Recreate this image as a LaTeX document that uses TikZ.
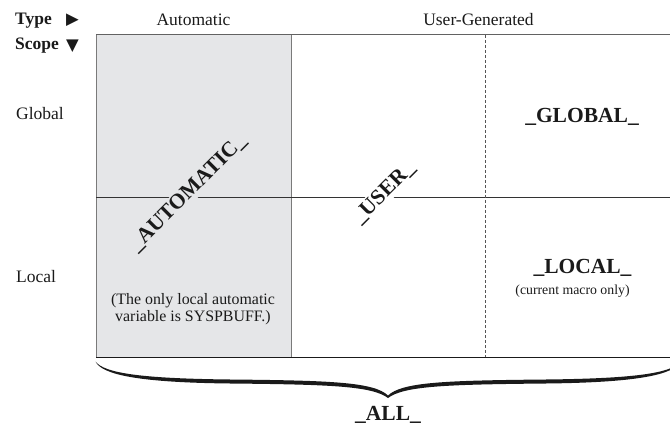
\documentclass[tikz,border=0pt]{standalone}
\usepackage{fontspec}
\setmainfont{Liberation Serif}
\newfontfamily\symfont{DejaVu Sans}
\definecolor{cellgray}{HTML}{E5E6E8}
\definecolor{edgegray}{HTML}{7A7A7A}
\definecolor{linedark}{HTML}{333333}
\definecolor{inkblack}{HTML}{1A1A1A}
\begin{document}
\begin{tikzpicture}[x=1pt,y=-1pt,
  head/.style={font=\fontsize{17.5}{20}\selectfont, inner sep=0pt, text=inkblack},
  headbold/.style={font=\fontsize{17.5}{20}\selectfont\bfseries, inner sep=0pt, text=inkblack},
  varname/.style={font=\fontsize{21.5}{24}\selectfont\bfseries, inner sep=0pt, text=inkblack},
  diagname/.style={font=\fontsize{21.5}{24}\selectfont\bfseries, inner sep=1.5pt, text=inkblack, rotate=45},
  note/.style={font=\fontsize{15.9}{17}\selectfont, inner sep=0pt, text=inkblack, align=center},
  smallnote/.style={font=\fontsize{13.8}{16}\selectfont, inner sep=0pt, text=inkblack},
  gridline/.style={line width=0.9pt, draw=linedark},
  sym/.style={font=\symfont\fontsize{16.5}{18}\selectfont, inner sep=0pt, text=inkblack}
]
\useasboundingbox (0,0) rectangle (670,425);
% grid coordinates
\coordinate (tl) at (96,35);
\coordinate (tr) at (670,35);
\coordinate (ml) at (96,197);
\coordinate (mr) at (670,197);
\coordinate (bl) at (96,357);
\coordinate (br) at (670,357);
\coordinate (vt) at (291,35);
\coordinate (vb) at (291,357);
\coordinate (dt) at (485.5,35);
\coordinate (db) at (485.5,357);
% shaded automatic column
\fill[cellgray] (tl) rectangle (vb);
\draw[line width=1pt, draw=edgegray] (bl) -- (tl);
\draw[line width=1pt, draw=edgegray] (vt) -- (vb);
\draw[line width=1pt, draw=edgegray!80!black] (tl) -- (tr);
\draw[gridline] (ml) -- (mr);
\draw[line width=1pt, draw=inkblack] (bl) -- (br);
\draw[line width=0.9pt, draw=edgegray!70!black, dash pattern=on 3pt off 2pt] (dt) -- (db);
% headers
\node[headbold, anchor=base west] (type) at (15,25) {Type};
\node[sym, anchor=base west] (typearrow) at (66,25) {▶};
\node[headbold, anchor=base west] (scope) at (15,50) {Scope};
\node[sym, anchor=base west] (scopearrow) at (66,51) {▼};
\node[head, anchor=base] (auto) at (193.5,26) {Automatic};
\node[head, anchor=base] (user) at (478.5,26) {User-Generated};
\node[head, anchor=base west] (global) at (16,120) {Global};
\node[head, anchor=base west] (local) at (16,282) {Local};
% variable names
\node[varname, anchor=base] (gvar) at (582,123) {\_GLOBAL\_};
\node[varname, anchor=base] (lvar) at (582.5,273) {\_LOCAL\_};
\node[smallnote, anchor=base] (lnote) at (572.5,294) {(current macro only)};
\node[diagname, fill=cellgray] (avar) at (188,193) {\_AUTOMATIC\_};
\node[diagname, fill=white] (uvar) at (384,193) {\_USER\_};
\node[note, anchor=base] (anote) at (193,321) {(The only local automatic\\variable is SYSPBUFF.)};
% brace
\fill[inkblack] (95.5,361.5)
  .. controls (104,373) and (140,378.5) .. (230,379.5)
  .. controls (330,380.5) and (374,382) .. (388,395.5)
  .. controls (402,382) and (446,380.5) .. (546,379.5)
  .. controls (636,378.5) and (672,373) .. (680.5,361.5)
  .. controls (674,375) and (636,382.5) .. (546,383.5)
  .. controls (446,384.5) and (404,386) .. (388,398)
  .. controls (372,386) and (330,384.5) .. (230,383.5)
  .. controls (140,382.5) and (102,375) .. (95.5,361.5) -- cycle;
\node[varname, anchor=base] (all) at (388,420.5) {\_ALL\_};
\end{tikzpicture}
\end{document}
